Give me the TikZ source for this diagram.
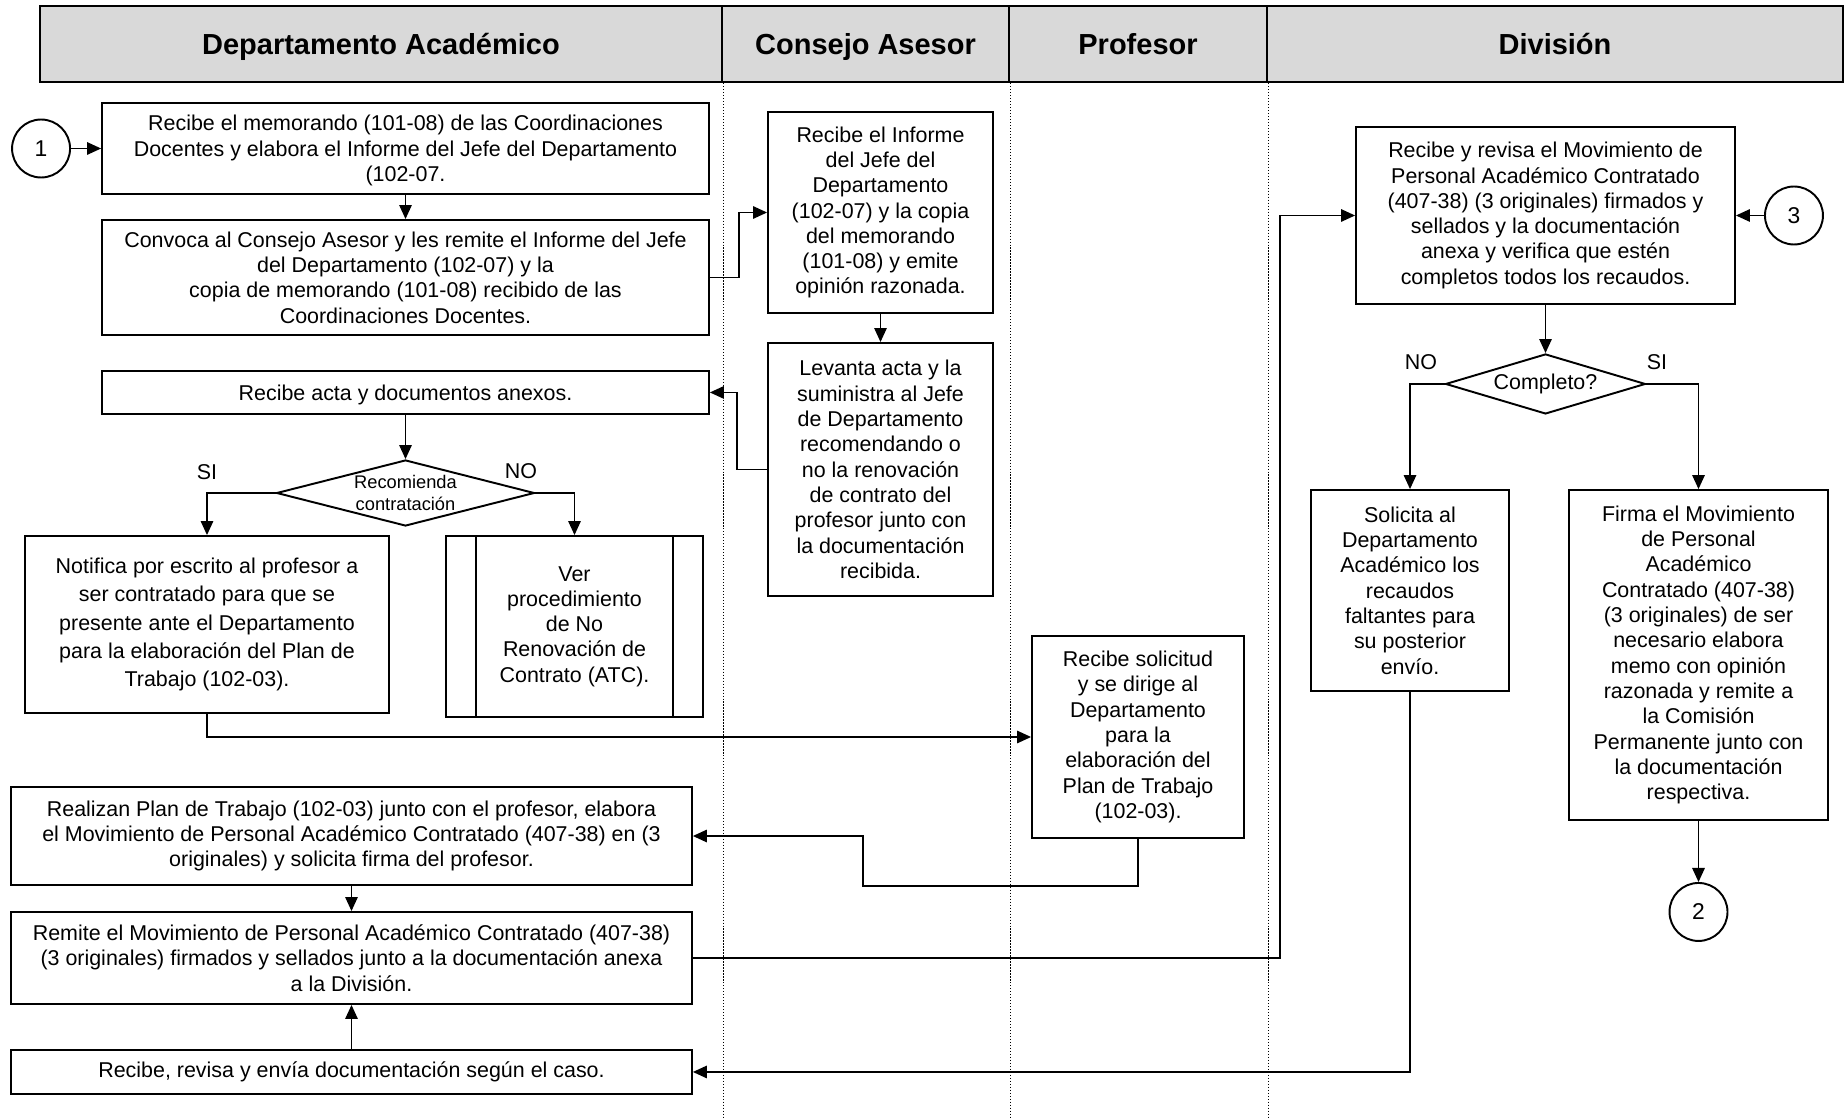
\documentclass[tikz,border=0pt]{standalone}
\usepackage{fontspec}
\setmainfont{Liberation Sans}
\usetikzlibrary{arrows.meta,shapes.geometric,positioning}

\begin{document}
\begin{tikzpicture}[x=0.02cm, y=-0.02cm, >={Triangle[length=0.28cm,width=0.25cm]}, line width=0.8pt,
                    lane/.style={rectangle,draw,fill=black!15,line width=1.4pt,minimum height=1.52cm,text height=13pt,text depth=1pt,font=\bfseries\fontsize{16.5}{20}\selectfont},
                    lanesep/.style={densely dotted,line width=0.7pt},
                    proc/.style={rectangle,draw,fill=white,line width=1.1pt,align=center,inner sep=2pt,font=\fontsize{12.2}{14.4}\selectfont},
                    decision/.style={diamond,draw,fill=white,line width=1.1pt,aspect=3,inner sep=0pt,font=\fontsize{12.2}{14.4}\selectfont},
                    conn/.style={circle,draw,line width=1.1pt,minimum size=1.16cm,inner sep=0pt,font=\fontsize{13}{15}\selectfont},
                    tag/.style={font=\fontsize{12.2}{14.4}\selectfont}]

          \useasboundingbox (0,0) rectangle (1845,1118);

          % lanes
          \node[lane, minimum width=13.64cm] (hdep) at (381,44) {Departamento Académico};
          \node[lane, minimum width=5.74cm] (hcon) at (865.5,44) {Consejo Asesor};
          \node[lane, minimum width=5.16cm] (hpro) at (1138,44) {Profesor};
          \node[lane, minimum width=11.52cm] (hdiv) at (1555,44) {División};

          \draw[lanesep] (hdep.south east) -- ++(0,1036);
          \draw[lanesep] (hcon.south east) -- ++(0,1036);
          \draw[lanesep] (hpro.south east) -- ++(0,1036);

          % Departamento Academico
          \node[proc, minimum width=12.14cm, minimum height=1.82cm, text depth=-0.12cm] (A) at (405.5,148.5)
               {Recibe el memorando (101-08) de las Coordinaciones\\Docentes y  elabora el  Informe del Jefe del Departamento\\(102-07.};
          \node[conn, left of=A, node distance=7.29cm] (c1) {1};
          \node[proc, minimum width=12.14cm, minimum height=2.3cm, text depth=-0.16cm, below of=A, node distance=2.58cm] (B)
               {Convoca al Consejo Asesor y les remite el Informe del Jefe\\del Departamento (102-07) y la\\copia de memorando (101-08) recibido de las\\Coordinaciones Docentes.};
          \node[proc, minimum width=12.14cm, minimum height=0.86cm, text depth=-0.08cm, below of=B, node distance=2.3cm] (C)
               {Recibe acta  y documentos anexos.};
          \node[decision, minimum width=5.16cm, minimum height=1.32cm,
                label={[align=center,font=\fontsize{10.4}{12.5}\selectfont]center:Recomienda\\contratación}] (d1) at (405.5,493) {};
          \node[tag] (si1) at (207,472) {SI};
          \node[tag] (no1) at (521,471) {NO};
          \node[proc, minimum width=7.28cm, minimum height=3.54cm, font=\fontsize{12.2}{16.2}\selectfont] (D) at (207,624.5)
               {Notifica por escrito al  profesor a\\ser contratado para que  se\\presente ante el Departamento\\para la elaboración del Plan de\\Trabajo (102-03).};
          \node[proc, minimum width=5.14cm, minimum height=3.62cm] (E) at (574.5,626.5)
               {Ver\\procedimiento\\de No\\Renovación de\\Contrato (ATC).};
          \draw[line width=1.1pt] ([xshift=0.62cm]E.north west) -- ([xshift=0.62cm]E.south west);
          \draw[line width=1.1pt] ([xshift=-0.62cm]E.north east) -- ([xshift=-0.62cm]E.south east);

          \node[proc, minimum width=13.62cm, minimum height=1.96cm] (I) at (351.5,836)
               {Realizan Plan de Trabajo (102-03) junto con el profesor,  elabora\\el Movimiento de Personal Académico Contratado  (407-38) en (3\\originales) y solicita firma del profesor.};
          \node[proc, minimum width=13.62cm, minimum height=1.84cm, below of=I, node distance=2.44cm] (J)
               {Remite el Movimiento de Personal Académico Contratado (407-38)\\(3 originales) firmados y sellados junto a la documentación anexa\\a la División.};
          \node[proc, minimum width=13.62cm, minimum height=0.88cm, below of=J, node distance=2.28cm] (K)
               {Recibe, revisa y envía documentación según el caso.};

          % Consejo Asesor
          \node[proc, minimum width=4.5cm, minimum height=4.02cm] (G) at (880.5,212.5)
               {Recibe el  Informe\\del Jefe del\\Departamento\\(102-07) y la copia\\del memorando\\(101-08)  y emite\\opinión razonada.};
          \node[proc, minimum width=4.5cm, minimum height=5.06cm, below of=G, node distance=5.14cm] (H)
               {Levanta acta y la\\suministra al Jefe\\de Departamento\\recomendando o\\no la renovación\\de contrato del\\profesor junto con\\la documentación\\recibida.};

          % Profesor
          \node[proc, minimum width=4.24cm, minimum height=4.04cm] (F) at (1138,737)
               {Recibe solicitud\\y se dirige al\\Departamento\\para la\\elaboración del\\Plan de Trabajo\\(102-03).};

          % Division
          \node[proc, minimum width=7.58cm, minimum height=3.54cm] (L) at (1545.5,215.5)
               {Recibe y revisa el Movimiento de\\Personal Académico Contratado\\(407-38) (3 originales) firmados y\\sellados  y la documentación\\anexa  y verifica que estén\\completos todos los recaudos.};
          \node[conn, right of=L, node distance=4.97cm] (c3) {3};
          \node[decision, minimum width=4cm, minimum height=1.2cm, below of=L, node distance=3.37cm] (d2) {Completo?};
          \node[tag] (no2) at (1421,362) {NO};
          \node[tag] (si2) at (1657,362) {SI};
          \node[proc, minimum width=3.96cm, minimum height=4.02cm] (M) at (1410,590.5)
               {Solicita al\\Departamento\\Académico los\\recaudos\\faltantes para\\su posterior\\envío.};
          \node[proc, minimum width=5.18cm, minimum height=6.6cm] (N) at (1698.5,655)
               {Firma  el  Movimiento\\de Personal\\Académico\\Contratado (407-38)\\(3 originales) de ser\\necesario elabora\\memo con opinión\\razonada  y remite a\\la  Comisión\\Permanente junto con\\la documentación\\respectiva.};
          \node[conn, below of=N, node distance=5.14cm] (c2) {2};

          % flow
          \path
          (c1) edge [->] (A)
          (A) edge [->] (B)
          (C) edge [->] (d1)
          (G) edge [->] (H)
          (I) edge [->] (J)
          (K) edge [->] (J)
          (c3) edge [->] (L)
          (L) edge [->] (d2)
          (N) edge [->] (c2);

          \draw[->] (B.east) -- ++(29,0) |- (G.west);
          \draw[->] (H.west) -- ++(-30,0) |- (C.east);
          \draw[->] (d1.west) -| (D.north);
          \draw[->] (d1.east) -| (E.north);
          \draw[->] (D.south) |- (F.west);
          \draw[->] (F.south) -- ++(0,47) -- ++(-275,0) |- (I.east);
          \draw[->] (J.east) -- ++(587,0) |- (L.west);
          \draw[->] (d2.west) -| (M.north);
          \draw[->] (d2.east) -| (N.north);
          \draw[->] (M.south) |- (K.east);

\end{tikzpicture}
\end{document}
